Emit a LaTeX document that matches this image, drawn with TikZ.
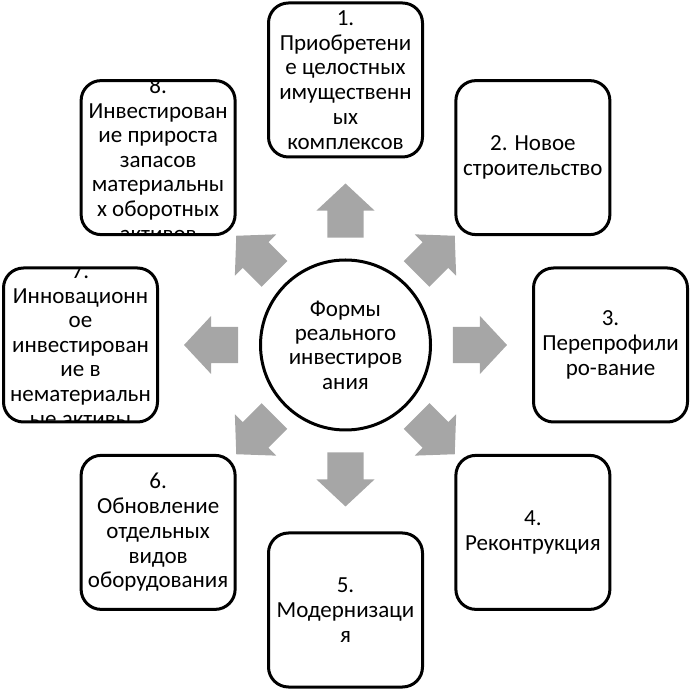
\documentclass[tikz,border=0pt]{standalone}
\usepackage{fontspec}
\setmainfont{Carlito}
\usepackage{tikz}
\usetikzlibrary{calc, shapes.arrows}
\definecolor{arrowgray}{HTML}{A6A6A6}
\definecolor{frameink}{HTML}{000000}
\tikzset{
  formbox/.style={draw=frameink, line width=3pt, rounded corners=20pt, align=center,
    minimum width=154pt, minimum height=154pt, inner sep=0pt, font=\fontsize{23}{24.8}\selectfont},
  formtext/.style={align=center, inner sep=0pt, font=\fontsize{23}{24.6}\selectfont},
  corecircle/.style={circle, draw=frameink, line width=3pt, minimum size=170pt, inner sep=0pt,
    align=center, font=\fontsize{23}{24.4}\selectfont},
  blockarrow/.style={single arrow, fill=arrowgray, draw=none, inner xsep=0pt, inner ysep=18pt,
    minimum width=58pt, minimum height=54pt, single arrow head extend=11pt, single arrow tip angle=94}
}
\begin{document}
\begin{tikzpicture}[x=1pt, y=1pt]
\useasboundingbox (0,0) rectangle (692,690);
\node[corecircle] (core) at (345.5,345) {Формы\\реального\\инвестиров\\ания};
% forms of real investment
\node[formbox] (f1) at ($(core)+(90:265pt)$) {1.\\Приобретени\\е целостных\\имущественн\\ых\\комплексов};
\node[formbox] (f2) at ($(core)+(45:265pt)$) {2. Новое\\строительство};
\node[formbox] (f3) at ($(core)+(0:265pt)$) {3.\\Перепрофили\\ро-вание};
\node[formbox] (f4) at ($(core)+(-45:265pt)$) {4.\\Реконтрукция};
\node[formbox] (f5) at ($(core)+(-90:265pt)$) {5.\\Модернизаци\\я};
\node[formbox] (f6) at ($(core)+(-135:265pt)$) {6.\\Обновление\\отдельных\\видов\\оборудования};
\node[formbox] (f7) at ($(core)+(180:265pt)$) {};
\node[formbox] (f8) at ($(core)+(135:265pt)$) {};
% long texts are cut by their frames
\begin{scope}
  \clip[rounded corners=18pt] ($(f7.south west)+(1.5,1.5)$) rectangle ($(f7.north east)-(1.5,1.5)$);
  \node[formtext] (t7) at (f7.center) {7.\\Инновационн\\ое\\инвестирован\\ие в\\нематериальн\\ые активы};
\end{scope}
\begin{scope}
  \clip[rounded corners=18pt] ($(f8.south west)+(1.5,1.5)$) rectangle ($(f8.north east)-(1.5,1.5)$);
  \node[formtext] (t8) at ($(f8.center)+(0,-2)$) {8.\\Инвестирован\\ие прироста\\запасов\\материальны\\х оборотных\\активов};
\end{scope}
% block arrows
\node[blockarrow, rotate=90] (a1) at ($(core)+(90:126pt)$) {};
\node[blockarrow, rotate=45] (a2) at ($(core)+(45:119pt)$) {};
\node[blockarrow, rotate=0] (a3) at ($(core)+(0:126pt)$) {};
\node[blockarrow, rotate=-45] (a4) at ($(core)+(-45:119pt)$) {};
\node[blockarrow, rotate=-90] (a5) at ($(core)+(-90:126pt)$) {};
\node[blockarrow, rotate=-135] (a6) at ($(core)+(-135:119pt)$) {};
\node[blockarrow, rotate=180] (a7) at ($(core)+(180:126pt)$) {};
\node[blockarrow, rotate=135] (a8) at ($(core)+(135:119pt)$) {};
\end{tikzpicture}
\end{document}
